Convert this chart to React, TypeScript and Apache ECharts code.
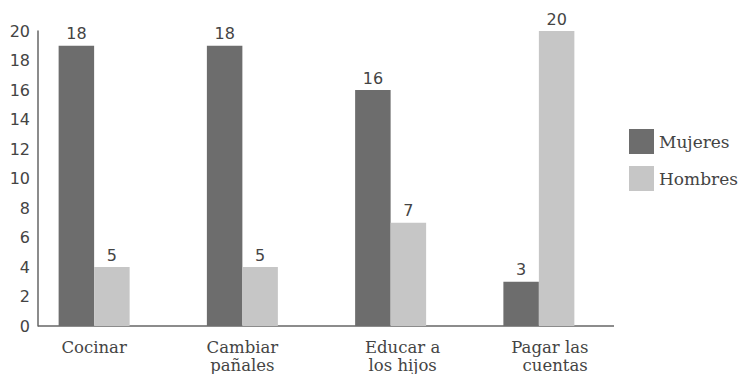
import React, { useEffect, useRef } from "react";
import * as echarts from "echarts";

const categories = ["Cocinar", "Cambiar\npañales", "Educar a\nlos hijos", "Pagar las\n  cuentas"];
const mujeresBars = [19, 19, 16, 3];
const hombresBars = [4, 4, 7, 20];
const mujeresLabels = ["18", "18", "16", "3"];
const hombresLabels = ["5", "5", "7", "20"];
const yTicks = [0, 2, 4, 6, 8, 10, 12, 14, 16, 18, 20];

const numFont = "'DejaVu Sans', sans-serif";
const slabFont = "'DejaVu Serif', serif";

export default function App() {
  const ref = useRef<HTMLDivElement>(null);
  useEffect(() => {
    if (!ref.current) return;
    const chart = echarts.init(ref.current, null, { renderer: "svg" });
    const catPad = [0, 0, 24, 22];
    chart.setOption({
      animation: false,
      grid: { left: 20, right: 127, top: 31, bottom: 46 },
      legend: {
        orient: "vertical",
        left: 624,
        top: 124,
        itemWidth: 25,
        itemHeight: 25,
        itemGap: 12,
        icon: "rect",
        textStyle: { fontFamily: slabFont, fontSize: 17, color: "#444" },
        data: ["Mujeres", "Hombres"],
      },
      xAxis: {
        type: "category",
        data: categories.map((c, i) => ({
          value: c,
          textStyle: { padding: [0, 0, 0, catPad[i]] },
        })),
        axisLine: { show: false },
        axisTick: { show: false },
        axisLabel: {
          fontFamily: slabFont,
          fontSize: 16.5,
          lineHeight: 18,
          color: "#444",
          margin: 12,
          interval: 0,
        },
      },
      yAxis: {
        type: "value",
        min: yTicks[0],
        max: yTicks[yTicks.length - 1],
        interval: 2,
        offset: -18,
        axisLine: { show: true, lineStyle: { color: "#666", width: 1.5 } },
        axisTick: { show: false },
        splitLine: { show: false },
        axisLabel: { fontFamily: numFont, fontSize: 16, color: "#444", margin: 8 },
      },
      series: [
        {
          name: "Mujeres",
          type: "bar",
          data: mujeresBars,
          barWidth: 35.5,
          barGap: "0%",
          itemStyle: { color: "#6d6d6d" },
          label: {
            show: true,
            position: "top",
            distance: 4,
            fontFamily: numFont,
            fontSize: 16,
            color: "#444",
            formatter: (p: any) => mujeresLabels[p.dataIndex],
          },
        },
        {
          name: "Hombres",
          type: "bar",
          data: hombresBars,
          barWidth: 35.5,
          barGap: "0%",
          itemStyle: { color: "#c6c6c6" },
          label: {
            show: true,
            position: "top",
            distance: 4,
            fontFamily: numFont,
            fontSize: 16,
            color: "#444",
            formatter: (p: any) => hombresLabels[p.dataIndex],
          },
        },
      ],
    });
    const y0 = chart.convertToPixel({ yAxisIndex: 0 }, 0) as number;
    const x0 = 38;
    const x1 = 614;
    chart.setOption({
      graphic: [
        {
          type: "line",
          shape: { x1: x0, y1: y0, x2: x1, y2: y0 },
          style: { stroke: "#666", lineWidth: 1.5 },
        },
      ],
    });
    return () => chart.dispose();
  }, []);
  return (
    <div
      ref={ref}
      style={{ position: "absolute", left: 0, top: 0, width: 740, height: 374 }}
    />
  );
}
